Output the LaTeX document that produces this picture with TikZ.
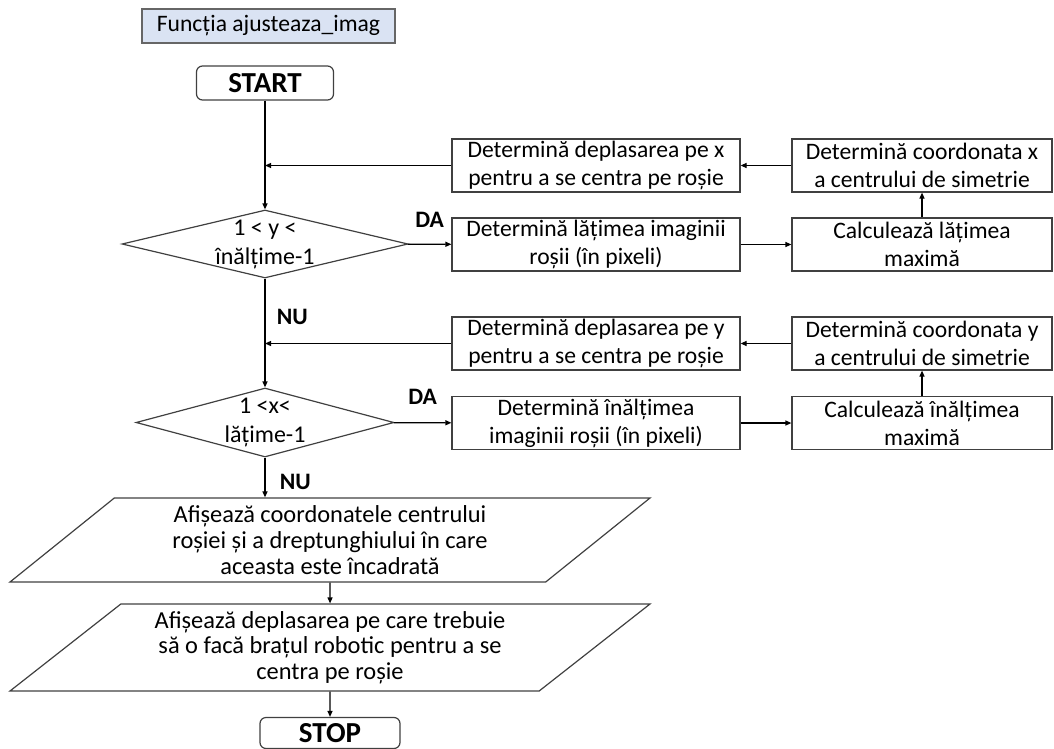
\documentclass[tikz,border=0pt]{standalone}
\usepackage{fontspec}
\setmainfont{Carlito}
\usepackage{xcolor}
\usetikzlibrary{arrows.meta, positioning, shapes.geometric}

\definecolor{titlefill}{RGB}{218,227,243}

\tikzset{
  every node/.style={font=\fontsize{23.6}{28}\selectfont},
  proc/.style={draw=black!75, line width=1.2pt, minimum height=53pt, inner sep=0pt, align=center},
  procl/.style={proc, minimum width=288pt},
  procr/.style={proc, minimum width=260pt},
  term/.style={draw=black!75, line width=1.2pt, rounded corners=6pt, inner sep=0pt,
    font=\fontsize{29}{32}\selectfont\bfseries},
  decision/.style={draw=black!75, line width=1.2pt, diamond, inner sep=0pt},
  condtext/.style={align=center, font=\fontsize{24}{29}\selectfont},
  io/.style={draw=black!75, line width=1.2pt, trapezium, trapezium left angle=33.3,
    trapezium right angle=146.7, trapezium stretches body, minimum width=640pt,
    minimum height=84pt, inner sep=0pt, align=center, font=\fontsize{24.4}{25.7}\selectfont},
  yesno/.style={font=\fontsize{23.6}{26}\selectfont\bfseries},
  link/.style={->, black, line width=1.2pt}
}

\begin{document}
\begin{tikzpicture}[x=1pt, y=-1pt, >={Triangle[length=6pt,width=5pt]}]

  \useasboundingbox (0,0) rectangle (1054,749);

  \node[draw=black!60, fill=titlefill, line width=1.2pt, minimum width=253pt,
    minimum height=34pt, inner sep=0pt] (title) at (268.5,26) {Funcția ajusteaza\_imag};

  \node[term, minimum width=137pt, minimum height=34pt] (start) at (265,83) {START};

  % first test: y
  \node[decision, minimum width=286pt, minimum height=68pt] (cond1) at (265,244) {};
  \node[condtext] (cond1txt) at (cond1) {1 < y <\\înălțime-1};
  \node[procl] (depx) at (596,165.5) {Determină deplasarea pe x\\pentru a se centra pe roșie};
  \node[procr] (coordx) at (922,165.5) {Determină coordonata x\\a centrului de simetrie};
  \node[procl] (latime) at (596,244.5) {Determină lățimea imaginii\\roșii (în pixeli)};
  \node[procr] (calclat) at (922,244.5) {Calculează lățimea\\maximă};

  % second test: x
  \node[decision, minimum width=258pt, minimum height=69pt] (cond2) at (265,422.5) {};
  \node[condtext] (cond2txt) at (cond2) {1 <x<\\lățime-1};
  \node[procl] (depy) at (596,343.5) {Determină deplasarea pe y\\pentru a se centra pe roșie};
  \node[procr] (coordy) at (922,343.5) {Determină coordonata y\\a centrului de simetrie};
  \node[procl] (inalt) at (596,423) {Determină înălțimea\\imaginii roșii (în pixeli)};
  \node[procr] (calcinalt) at (922,423) {Calculează înălțimea\\maximă};

  % output and end
  \node[io] (afis1) at (330,540) {Afișează coordonatele centrului\\roșiei și a dreptunghiului în care\\aceasta este încadrată};
  \node[io, minimum height=87pt] (afis2) at (330,647.5) {Afișează deplasarea pe care trebuie\\să o facă brațul robotic pentru a se\\centra pe roșie};
  \node[term, minimum width=140pt, minimum height=31pt] (stop) at (330,733) {STOP};

  \draw[link] (start) -- (cond1);
  \draw[link] (coordx) -- (depx);
  \draw[link] (depx.west) -- (depx.west -| start.south);
  \draw[link] (cond1) -- node[yesno, above=13pt] (da1) {DA} (latime);
  \draw[link] (latime) -- (calclat);
  \draw[link] (calclat) -- (coordx);

  \draw[link] (cond1) -- node[yesno, right=8pt, pos=0.35] (nu1) {NU} (cond2);
  \draw[link] (coordy) -- (depy);
  \draw[link] (depy.west) -- (depy.west -| cond1.south);
  \draw[link] (cond2) -- node[yesno, above=14pt] (da2) {DA} (inalt);
  \draw[link] (inalt) -- (calcinalt);
  \draw[link] (calcinalt) -- (coordy);

  \draw[link] (cond2.south) -- node[yesno, right=11pt, pos=0.6] (nu2) {NU} (cond2.south |- afis1.north);
  \draw[link] (afis1) -- (afis2);
  \draw[link] (afis2) -- (stop);

\end{tikzpicture}
\end{document}
